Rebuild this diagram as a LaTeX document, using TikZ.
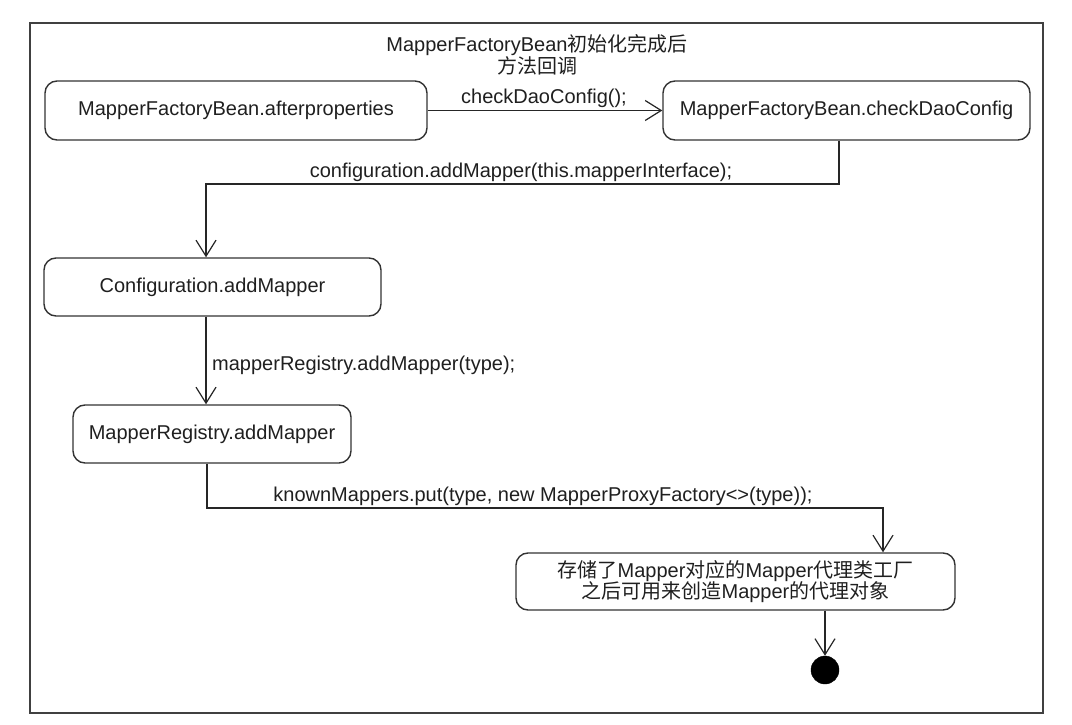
\documentclass[tikz,border=0pt]{standalone}
\usepackage{fontspec}
\setmainfont{Liberation Sans}
\newfontfamily\cjk{Noto Sans CJK SC}
\usetikzlibrary{arrows.meta}
\begin{document}
\begin{tikzpicture}[x=1pt,y=-1pt,
  every node/.style={font=\fontsize{20}{23}\selectfont, text=black!88},
  state/.style={draw=black!80, line width=1.4pt, rounded corners=12pt, inner sep=0pt, align=center},
  arr/.style={draw=black!85, line width=1.2pt, -{Straight Barb[length=16pt,width=20pt,line width=1.2pt]}},
  lbl/.style={inner sep=0pt}
]
\useasboundingbox (0,0) rectangle (1072,725);
\draw[black!75, line width=1.4pt] (30,23) rectangle (1043,713);

\node[align=center, inner sep=0pt] (title) at (537,55) {MapperFactoryBean{\cjk 初始化完成后}\\[-1pt]{\cjk 方法回调}};

\node[state, minimum width=382pt, minimum height=59pt] (A) at (236,110.5) {MapperFactoryBean.afterproperties};
\node[state, minimum width=367pt, minimum height=59pt] (B) at (846.5,110.5) {MapperFactoryBean.checkDaoConfig};
\node[state, minimum width=337pt, minimum height=58pt] (C) at (212.5,287) {Configuration.addMapper};
\node[state, minimum width=278pt, minimum height=58pt] (D) at (212,434) {MapperRegistry.addMapper};
\node[state, minimum width=439pt, minimum height=57pt] (E) at (735.5,581.5) {{\cjk 存储了}Mapper{\cjk 对应的}Mapper{\cjk 代理类工厂}\\[-2pt]{\cjk 之后可用来创造}Mapper{\cjk 的代理对象}};
\node[circle, fill=black, draw=black, minimum size=28pt, inner sep=0pt] (end) at (825,670) {};

\coordinate (b1) at (839,140);
\coordinate (c1) at (206,258);
\coordinate (d1) at (207,463);
\coordinate (e1) at (883,553);

\draw[arr] (A.east) -- (B.west);
\draw[arr] (b1 |- B.south) -- (839,184) -| (c1 |- C.north);
\draw[arr] (c1 |- C.south) -- (c1 |- D.north);
\draw[arr] (d1 |- D.south) -- (207,508) -| (e1 |- E.north);
\draw[arr] (end |- E.south) -- (end.north);

\node[lbl] (l1) at (544,98) {checkDaoConfig();};
\node[lbl] (l2) at (521,172) {configuration.addMapper(this.mapperInterface);};
\node[lbl, anchor=west] (l3) at (212,365) {mapperRegistry.addMapper(type);};
\node[lbl] (l4) at (543,496) {knownMappers.put(type, new MapperProxyFactory<>(type));};
\end{tikzpicture}
\end{document}
